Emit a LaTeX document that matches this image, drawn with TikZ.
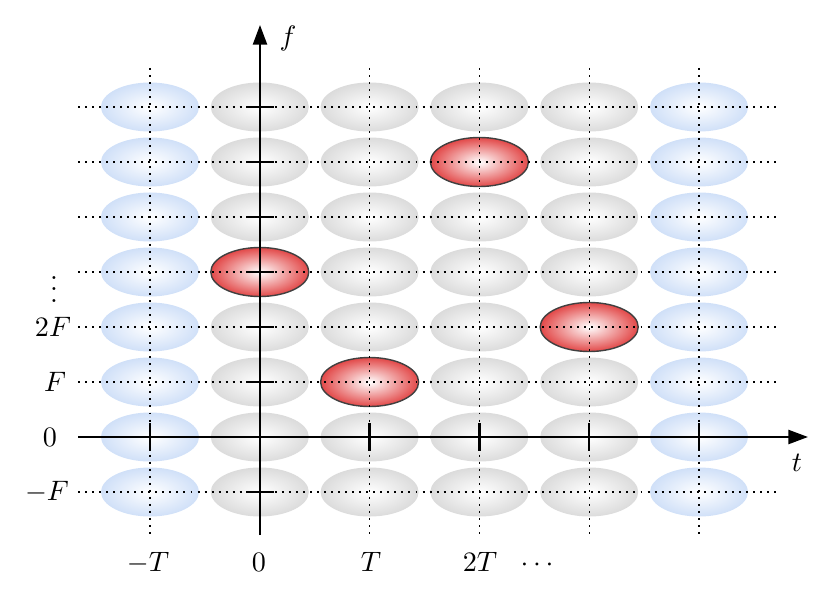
\documentclass[tikz,border=0pt]{standalone}
\usetikzlibrary{shapes.geometric,arrows.meta}
\definecolor{bluec}{RGB}{208,224,248}
\definecolor{redc}{RGB}{226,72,72}
\begin{document}
\begin{tikzpicture}[x=0.0125cm,y=-0.0125cm,
  blob/.style={ellipse, minimum width=1.225cm, minimum height=0.6125cm, inner sep=0pt},
  graybl/.style={blob, inner color=white, outer color=gray!28},
  bluebl/.style={blob, inner color=white, outer color=bluec},
  redbl/.style={blob, inner color=white, outer color=redc, draw=black!75, line width=0.5pt},
  gridl/.style={dash pattern=on 0.7pt off 1.8pt, line width=0.4pt},
  axis/.style={line width=0.8pt, -{Triangle[length=7pt,width=5pt]}},
  tickl/.style={line width=0.8pt},
  lab/.style={inner sep=0pt}]
\useasboundingbox (0,0) rectangle (830,596);
% ellipses
\foreach \i in {0,...,5}{
  \foreach \j in {0,...,7}{
    \tikzset{cur/.style={graybl}}
    \ifnum\i=0 \tikzset{cur/.style={bluebl}}\fi
    \ifnum\i=5 \tikzset{cur/.style={bluebl}}\fi
    \ifnum\i\j=13 \tikzset{cur/.style={redbl}}\fi
    \ifnum\i\j=25 \tikzset{cur/.style={redbl}}\fi
    \ifnum\i\j=31 \tikzset{cur/.style={redbl}}\fi
    \ifnum\i\j=44 \tikzset{cur/.style={redbl}}\fi
    \node[cur] (e\i\j) at ({150+109.8*\i},{107+55*\j}) {};
  }
}
% grid lines
\foreach \j in {0,...,5,7}{
  \draw[gridl] (78,{107+55*\j}) -- (777,{107+55*\j});
}
\foreach \i in {0,2,3,4,5}{
  \draw[gridl] ({150+109.8*\i},68) -- ({150+109.8*\i},535);
}
% axes
\coordinate (tstart) at (78,437);
\coordinate (tend) at (808,437);
\coordinate (fstart) at (260,535);
\coordinate (fend) at (260,25);
\draw[axis] (tstart) -- (tend);
\draw[axis] (fstart) -- (fend);
% ticks
\foreach \i in {0,2,3,4,5}{
  \draw[tickl] ({150+109.8*\i},423) -- ({150+109.8*\i},451);
}
\foreach \j in {0,...,5,7}{
  \draw[tickl] (246,{107+55*\j}) -- (274,{107+55*\j});
}
% labels
\node[lab] (lf) at (288,38) {$f$};
\node[lab] (lt) at (797,463) {$t$};
\node[lab] (l0) at (50,437) {$0$};
\node[lab] (lmF) at (47,492) {$-F$};
\node[lab] (lF) at (55,382) {$F$};
\node[lab] (l2F) at (53,327) {$2F$};
\node[lab] (ldots) at (54,281) {$\vdots$};
\node[lab,anchor=base] (lmT) at (148,571) {$-T$};
\node[lab,anchor=base] (lt0) at (259,571) {$0$};
\node[lab,anchor=base] (lT) at (371,571) {$T$};
\node[lab,anchor=base] (l2T) at (480,571) {$2T$};
\node[lab,anchor=base] (ltdots) at (537,571) {$\cdots$};
\end{tikzpicture}
\end{document}
